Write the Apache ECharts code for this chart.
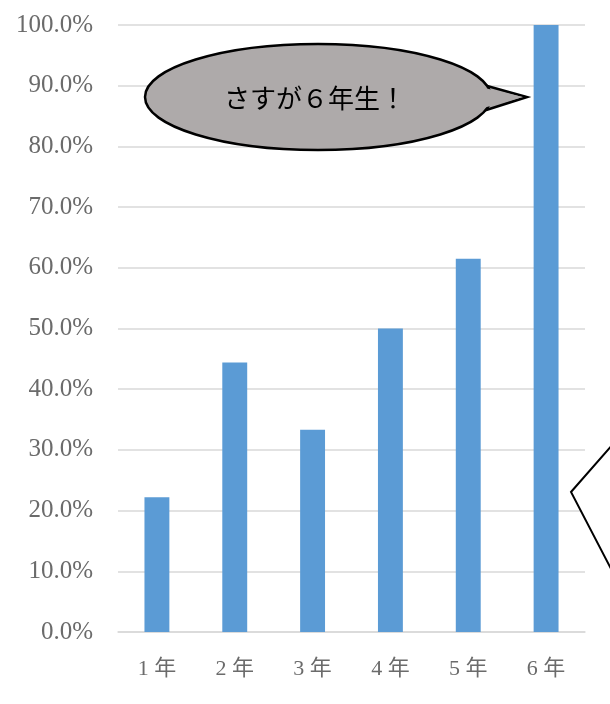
<!DOCTYPE html>
<html>
<head>
<meta charset="utf-8">
<script src="https://cdn.jsdelivr.net/npm/echarts@6/dist/echarts.min.js"></script>
<style>
  html, body { margin: 0; padding: 0; background: #fff; }
  #chart { width: 610px; height: 704px; }
</style>
</head>
<body>
<div id="chart"></div>
<script>
// Share of students per grade (percent)
const grades = ['1年', '2年', '3年', '4年', '5年', '6年'];
const rates = [22.2, 44.4, 33.3, 50.0, 61.5, 100.0];
const bubbleText = 'さすが６年生！';

const chart = echarts.init(document.getElementById('chart'), null, { renderer: 'canvas' });

const labelFont = '"Liberation Serif", "Noto Sans CJK JP", serif';

chart.setOption({
  animation: false,
  backgroundColor: '#ffffff',
  grid: { left: 118, right: 25, top: 25, bottom: 72 },
  xAxis: {
    type: 'category',
    data: grades,
    axisLine: { show: true, lineStyle: { color: '#d9d9d9', width: 1.5 } },
    axisTick: { show: false },
    axisLabel: {
      color: '#6b6b6b', fontSize: 22, fontFamily: labelFont, margin: 26,
      formatter: v => v.replace('年', ' 年')
    }
  },
  yAxis: {
    type: 'value',
    min: 0,
    max: 100,
    interval: 10,
    axisLine: { show: false },
    axisTick: { show: false },
    splitLine: { lineStyle: { color: '#d9d9d9', width: 1.5 } },
    axisLabel: {
      color: '#6b6b6b',
      fontSize: 25,
      fontFamily: labelFont,
      margin: 25,
      formatter: v => v.toFixed(1) + '%'
    }
  },
  series: [{
    type: 'bar',
    data: rates,
    barWidth: '32%',
    itemStyle: { color: '#5b9bd5' }
  }],
  graphic: [
    // callout tail pointing at the 6th-grade bar
    {
      type: 'polygon', z: 100,
      shape: { points: [[480, 84], [527, 97], [480, 112]] },
      style: { fill: '#aeaaaa', stroke: '#000', lineWidth: 2.5, lineJoin: 'miter' }
    },
    {
      type: 'ellipse', z: 101,
      shape: { cx: 318, cy: 97, rx: 173, ry: 53 },
      style: { fill: '#aeaaaa', stroke: '#000', lineWidth: 2.5 }
    },
    {
      type: 'polygon', z: 102,
      shape: { points: [[476, 86], [523, 97], [476, 110]] },
      style: { fill: '#aeaaaa', stroke: null }
    },
    {
      type: 'text', z: 103,
      style: {
        text: bubbleText,
        x: 315, y: 98,
        align: 'center', verticalAlign: 'middle',
        fontSize: 26,
        fontFamily: '"Noto Sans CJK JP", sans-serif',
        fill: '#000'
      }
    },
    // second callout, body off to the right
    {
      type: 'polygon', z: 100,
      shape: { points: [[620, 436], [571, 492], [620, 586]] },
      style: { fill: '#ffffff', stroke: '#000', lineWidth: 2, lineJoin: 'miter' }
    }
  ]
});
</script>
</body>
</html>
